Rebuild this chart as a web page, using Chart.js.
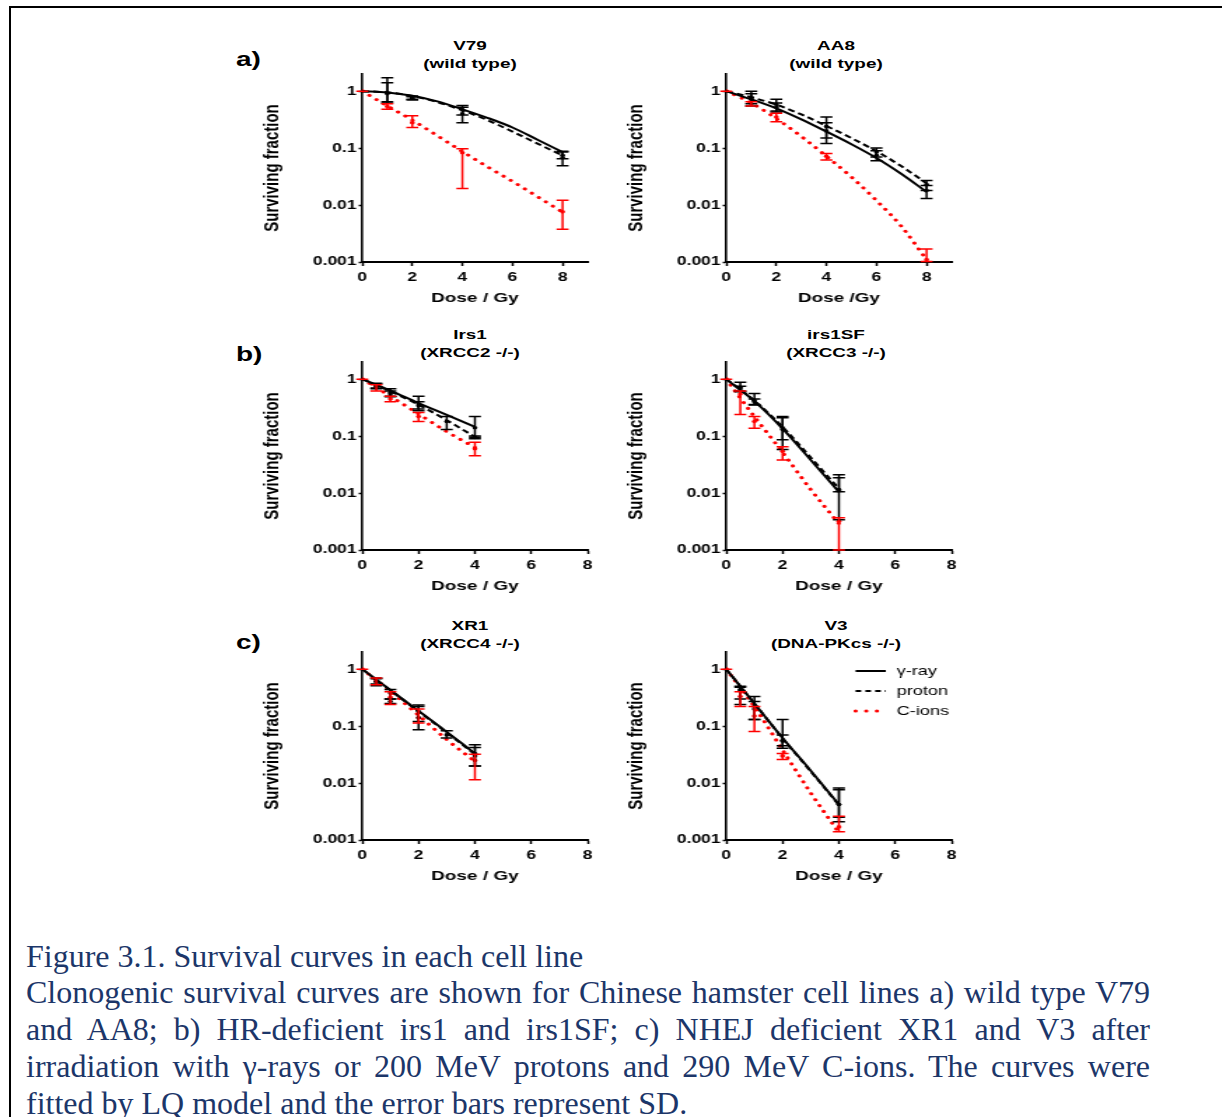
<!DOCTYPE html>
<html>
<head>
<meta charset="utf-8">
<script src="https://cdn.jsdelivr.net/npm/chart.js@4.4.1/dist/chart.umd.min.js"></script>
<style>
  body { margin: 0; background: #fff; }
  #page { position: relative; width: 1222px; height: 1117px; overflow: hidden; background: #fff;
          font-family: "Liberation Sans", Arial, sans-serif; color: #000; }
  #frame { position: absolute; left: 9px; top: 6px; width: 1300px; height: 1200px;
           border-left: 2px solid #000; border-top: 2px solid #000; }
  /* the original figure is stretched sideways, so every panel is too */
  .box { position: absolute; transform: scaleX(1.4); transform-origin: 0 0; }
  .col1 { left: 259.8px; }
  .col2 { left: 623.8px; }
  .row1 { top: 64px; }
  .row2 { top: 352px; }
  .row3 { top: 642px; }
  .title { position: absolute; width: 200px; margin-left: -100px; text-align: center;
           font-weight: bold; font-size: 13.5px; line-height: 18px; transform: scaleX(1.4); }
  .lab { position: absolute; left: 236px; font-weight: bold; font-size: 20px; line-height: 24px;
         transform: scaleX(1.4); transform-origin: 0 50%; }
  #caption { position: absolute; left: 26px; top: 937.6px; width: 1124px;
             font-family: "Liberation Serif", "Times New Roman", serif; font-size: 32px;
             line-height: 36.8px; color: #1c3669; }
  .jl { text-align: justify; text-align-last: justify; }
</style>
</head>
<body>
<div id="page">
  <div id="frame"></div>

  <div class="lab" style="top:47px">a)</div>
  <div class="lab" style="top:342px">b)</div>
  <div class="lab" style="top:630px">c)</div>

  <div class="title" style="left:470px; top:37px">V79<br>(wild type)</div>
  <div class="title" style="left:836px; top:37px">AA8<br>(wild type)</div>
  <div class="title" style="left:470px; top:326px">Irs1<br>(XRCC2 -/-)</div>
  <div class="title" style="left:836px; top:326px">irs1SF<br>(XRCC3 -/-)</div>
  <div class="title" style="left:470px; top:617px">XR1<br>(XRCC4 -/-)</div>
  <div class="title" style="left:836px; top:617px">V3<br>(DNA-PKcs -/-)</div>

  <div class="box col1 row1"><canvas id="cV79" width="242" height="244"></canvas></div>
  <div class="box col2 row1"><canvas id="cAA8" width="242" height="244"></canvas></div>
  <div class="box col1 row2"><canvas id="cIrs1" width="242" height="244"></canvas></div>
  <div class="box col2 row2"><canvas id="cIrs1SF" width="242" height="244"></canvas></div>
  <div class="box col1 row3"><canvas id="cXR1" width="242" height="244"></canvas></div>
  <div class="box col2 row3"><canvas id="cV3" width="242" height="244"></canvas></div>

  <div id="caption">
    <div>Figure 3.1. Survival curves in each cell line</div>
    <div class="jl">Clonogenic survival curves are shown for Chinese hamster cell lines a) wild type V79</div>
    <div class="jl">and AA8; b) HR-deficient irs1 and irs1SF; c) NHEJ deficient XR1 and V3 after</div>
    <div class="jl">irradiation with γ-rays or 200 MeV protons and 290 MeV C-ions. The curves were</div>
    <div>fitted by LQ model and the error bars represent SD.</div>
  </div>
</div>

<script>
// axis ticks
const xTicks = [0, 2, 4, 6, 8];
const yTicks = [0.001, 0.01, 0.1, 1];
const yTickLabels = ['0.001', '0.01', '0.1', '1'];
const seriesNames = ['γ-ray', 'proton', 'C-ions'];

// doses where the fitted curves were read
const fitDoseLong = [0, 1, 2, 3, 4, 5, 6, 7, 8];
const fitDoseShort = [0, 1, 2, 3, 4];

// fitted curves (surviving fraction)
const v79GammaFit = [1, 0.95, 0.83, 0.66, 0.48, 0.34, 0.23, 0.14, 0.085];
const v79ProtonFit = [1, 0.95, 0.82, 0.64, 0.46, 0.31, 0.195, 0.12, 0.074];
const v79CionFit = [1, 0.55, 0.31, 0.165, 0.087, 0.047, 0.026, 0.014, 0.0075];

const aa8GammaFit = [1, 0.72, 0.50, 0.32, 0.195, 0.117, 0.067, 0.035, 0.017];
const aa8ProtonFit = [1, 0.78, 0.58, 0.39, 0.245, 0.15, 0.088, 0.048, 0.024];
const aa8CionFit = [1, 0.62, 0.33, 0.16, 0.072, 0.031, 0.012, 0.0042, 0.0011];

const irs1GammaFit = [1, 0.63, 0.38, 0.235, 0.145];
const irs1ProtonFit = [1, 0.61, 0.355, 0.19, 0.097];
const irs1CionFit = [1, 0.5, 0.245, 0.12, 0.063];

const irs1sfGammaFit = [1, 0.41, 0.135, 0.038, 0.0105];
const irs1sfProtonFit = [1, 0.42, 0.145, 0.042, 0.012];
const irs1sfCionFit = [1, 0.22, 0.052, 0.0115, 0.0029];

const xr1GammaFit = [1, 0.43, 0.185, 0.079, 0.033];
const xr1ProtonFit = [1, 0.425, 0.18, 0.077, 0.032];
const xr1CionFit = [1, 0.41, 0.155, 0.058, 0.024];

const v3GammaFit = [1, 0.25, 0.062, 0.0165, 0.0042];
const v3ProtonFit = [1, 0.25, 0.061, 0.016, 0.0041];
const v3CionFit = [1, 0.22, 0.038, 0.0067, 0.00135];

// measured points: [dose, mean, low end of bar, high end of bar]
const v79GammaPts = [[1, 0.95, 0.62, 1.72], [2, 0.77, 0.72, 0.82], [4, 0.47, 0.38, 0.56], [8, 0.075, 0.065, 0.088]];
const v79ProtonPts = [[1, 0.9, 0.65, 1.4], [2, 0.75, 0.7, 0.8], [4, 0.40, 0.28, 0.52], [8, 0.068, 0.049, 0.085]];
const v79CionPts = [[0, 1, 1, 1], [1, 0.54, 0.48, 0.6], [2, 0.28, 0.23, 0.37], [4, 0.083, 0.0196, 0.097], [8, 0.0076, 0.00375, 0.0121]];

const aa8GammaPts = [[1, 0.72, 0.55, 0.9], [2, 0.52, 0.43, 0.62], [4, 0.2, 0.12, 0.28], [6, 0.075, 0.06, 0.09], [8, 0.018, 0.013, 0.022]];
const aa8ProtonPts = [[1, 0.78, 0.6, 1.0], [2, 0.58, 0.45, 0.72], [4, 0.24, 0.15, 0.35], [6, 0.085, 0.07, 0.1], [8, 0.023, 0.018, 0.027]];
const aa8CionPts = [[0, 1, 1, 1], [1, 0.6, 0.55, 0.65], [2, 0.35, 0.29, 0.41], [4, 0.072, 0.062, 0.08], [8, 0.0011, 0.00102, 0.0017]];

const irs1GammaPts = [[0.5, 0.77, 0.7, 0.85], [1, 0.58, 0.49, 0.68], [2, 0.37, 0.28, 0.5], [4, 0.14, 0.095, 0.22]];
const irs1ProtonPts = [[0.5, 0.75, 0.68, 0.82], [1, 0.55, 0.5, 0.62], [2, 0.34, 0.3, 0.4], [3, 0.18, 0.13, 0.22], [4, 0.095, 0.09, 0.1]];
const irs1CionPts = [[0, 1, 1, 1], [0.5, 0.7, 0.62, 0.8], [1, 0.45, 0.4, 0.5], [2, 0.22, 0.18, 0.26], [4, 0.06, 0.045, 0.078]];

const irs1sfGammaPts = [[0.5, 0.72, 0.62, 0.88], [1, 0.42, 0.35, 0.56], [2, 0.14, 0.058, 0.22], [4, 0.011, 0.0034, 0.021]];
const irs1sfProtonPts = [[0.5, 0.68, 0.6, 0.75], [1, 0.4, 0.36, 0.45], [2, 0.13, 0.086, 0.21], [4, 0.0115, 0.0105, 0.0185]];
const irs1sfCionPts = [[0, 1, 1, 1], [0.5, 0.55, 0.24, 0.62], [1, 0.18, 0.138, 0.22], [2, 0.054, 0.038, 0.065], [4, 0.0032, 0.001, 0.0037]];

const xr1GammaPts = [[0.5, 0.6, 0.51, 0.7], [1, 0.38, 0.3, 0.44], [2, 0.18, 0.12, 0.235], [3, 0.07, 0.062, 0.083], [4, 0.033, 0.02, 0.047]];
const xr1ProtonPts = [[0.5, 0.62, 0.55, 0.68], [1, 0.27, 0.25, 0.3], [2, 0.14, 0.086, 0.22], [4, 0.03, 0.02, 0.042]];
const xr1CionPts = [[0, 1, 1, 1], [0.5, 0.6, 0.53, 0.7], [1, 0.32, 0.24, 0.4], [2, 0.14, 0.113, 0.2], [4, 0.025, 0.0114, 0.032]];

const v3GammaPts = [[0.5, 0.44, 0.24, 0.5], [1, 0.22, 0.13, 0.33], [2, 0.056, 0.041, 0.13], [4, 0.0042, 0.0021, 0.0082]];
const v3ProtonPts = [[0.5, 0.42, 0.3, 0.48], [1, 0.2, 0.13, 0.27], [2, 0.055, 0.045, 0.07], [4, 0.0042, 0.0025, 0.0076]];
const v3CionPts = [[0, 1, 1, 1], [0.5, 0.33, 0.22, 0.4], [1, 0.15, 0.08, 0.22], [2, 0.03, 0.026, 0.033], [4, 0.0017, 0.0014, 0.0026]];

const FONT = '"Liberation Sans", Arial, sans-serif';
const RED = '#ff0000';

// error bars with caps, drawn through the chart's own scales
const errorBars = {
  id: 'errorBars',
  afterDatasetsDraw(chart) {
    const {ctx, chartArea, scales} = chart;
    ctx.save();
    ctx.beginPath();
    ctx.rect(chartArea.left - 6, chartArea.top, chartArea.width + 12, chartArea.height + 1);
    ctx.clip();
    chart.data.datasets.forEach(ds => {
      if (!ds.bars) return;
      ctx.strokeStyle = ds.borderColor;
      ctx.lineWidth = 1.5;
      ds.bars.forEach(b => {
        const px = scales.x.getPixelForValue(b[0]);
        const lo = scales.y.getPixelForValue(b[2]);
        const hi = scales.y.getPixelForValue(b[3]);
        ctx.beginPath();
        ctx.moveTo(px, hi); ctx.lineTo(px, lo);
        ctx.moveTo(px - 4.3, hi); ctx.lineTo(px + 4.3, hi);
        ctx.moveTo(px - 4.3, lo); ctx.lineTo(px + 4.3, lo);
        ctx.stroke();
      });
    });
    ctx.restore();
  }
};

// legend in the top right corner of the plot (only used on V3)
const cornerLegend = {
  id: 'cornerLegend',
  afterDraw(chart, args, opts) {
    if (!opts.show) return;
    const {ctx, chartArea} = chart;
    const curves = chart.data.datasets.filter(d => !d.bars);
    curves.forEach((ds, i) => {
      const yy = chartArea.top + 19 + i * 20;
      ctx.save();
      ctx.strokeStyle = ds.borderColor;
      ctx.lineWidth = ds.borderWidth;
      ctx.lineCap = ds.borderCapStyle || 'butt';
      ctx.setLineDash(ds.legendDash);
      ctx.beginPath();
      ctx.moveTo(chartArea.right - 68.6, yy);
      ctx.lineTo(chartArea.right - 47, yy);
      ctx.stroke();
      ctx.setLineDash([]);
      ctx.fillStyle = '#000';
      ctx.font = '13px ' + FONT;
      ctx.textBaseline = 'middle';
      ctx.fillText(ds.label, chartArea.right - 39.3, yy);
      ctx.restore();
    });
  }
};

function curve(label, dose, vals, style) {
  return Object.assign({
    label: label,
    data: dose.map((d, i) => ({x: d, y: vals[i]})),
    pointRadius: 0,
    fill: false,
    cubicInterpolationMode: 'monotone'
  }, style);
}

function points(label, pts, color) {
  return {
    label: label,
    data: pts.map(p => ({x: p[0], y: p[1]})),
    bars: pts,
    showLine: false,
    borderColor: color,
    backgroundColor: color,
    pointRadius: 1.8,
    pointBorderWidth: 0
  };
}

function drawPanel(id, dose, fits, pts, xMax, xTitle, legend) {
  const solid = {borderColor: '#000', borderWidth: 2, legendDash: []};
  const dashed = {borderColor: '#000', borderWidth: 2, borderDash: [5, 3], legendDash: [4, 3]};
  const dotted = {borderColor: RED, borderWidth: 3, borderDash: [0.1, 6.5], borderCapStyle: 'round', legendDash: [0.1, 7.5]};
  new Chart(document.getElementById(id), {
    type: 'line',
    data: {
      datasets: [
        curve(seriesNames[0], dose, fits[0], solid),
        curve(seriesNames[1], dose, fits[1], dashed),
        curve(seriesNames[2], dose, fits[2], dotted),
        points(seriesNames[0], pts[0], '#000'),
        points(seriesNames[1], pts[1], '#000'),
        points(seriesNames[2], pts[2], RED)
      ]
    },
    options: {
      responsive: false,
      animation: false,
      devicePixelRatio: 1,
      layout: {padding: {top: 10, left: 0, right: 8, bottom: 0}},
      plugins: {
        legend: {display: false},
        tooltip: {enabled: false},
        cornerLegend: {show: legend}
      },
      scales: {
        x: {
          type: 'linear', min: 0, max: xMax,
          afterBuildTicks: s => { s.ticks = xTicks.map(v => ({value: v})); },
          afterFit: s => { s.height = 46; },
          grid: {drawOnChartArea: false, tickLength: 4, tickWidth: 1.5, tickColor: '#000'},
          border: {color: '#000', width: 2},
          ticks: {color: '#000', padding: 4.5, maxRotation: 0, autoSkip: false,
                  font: {family: FONT, size: 12.5, weight: 'bold'}},
          title: {display: true, text: xTitle, color: '#000', padding: {top: 0, bottom: 2},
                  font: {family: FONT, size: 13.5, weight: 'bold'}}
        },
        y: {
          type: 'logarithmic', min: 0.001, max: 2,
          afterBuildTicks: s => { s.ticks = yTicks.map(v => ({value: v})); },
          afterFit: s => { s.width = 73; },
          grid: {drawOnChartArea: false, tickLength: 2.5, tickWidth: 1.5, tickColor: '#000'},
          border: {color: '#000', width: 1.6},
          ticks: {color: '#000', padding: 1.5, autoSkip: false,
                  callback: v => yTickLabels[yTicks.indexOf(v)],
                  font: {family: FONT, size: 12.5, weight: 'bold'}},
          title: {display: true, text: 'Surviving fraction', color: '#000', padding: 0,
                  font: {family: FONT, size: 15, weight: 'bold'}}
        }
      }
    },
    plugins: [errorBars, cornerLegend]
  });
}

drawPanel('cV79', fitDoseLong, [v79GammaFit, v79ProtonFit, v79CionFit],
          [v79GammaPts, v79ProtonPts, v79CionPts], 9, 'Dose / Gy', false);
drawPanel('cAA8', fitDoseLong, [aa8GammaFit, aa8ProtonFit, aa8CionFit],
          [aa8GammaPts, aa8ProtonPts, aa8CionPts], 9, 'Dose /Gy', false);
drawPanel('cIrs1', fitDoseShort, [irs1GammaFit, irs1ProtonFit, irs1CionFit],
          [irs1GammaPts, irs1ProtonPts, irs1CionPts], 8, 'Dose / Gy', false);
drawPanel('cIrs1SF', fitDoseShort, [irs1sfGammaFit, irs1sfProtonFit, irs1sfCionFit],
          [irs1sfGammaPts, irs1sfProtonPts, irs1sfCionPts], 8, 'Dose / Gy', false);
drawPanel('cXR1', fitDoseShort, [xr1GammaFit, xr1ProtonFit, xr1CionFit],
          [xr1GammaPts, xr1ProtonPts, xr1CionPts], 8, 'Dose / Gy', false);
drawPanel('cV3', fitDoseShort, [v3GammaFit, v3ProtonFit, v3CionFit],
          [v3GammaPts, v3ProtonPts, v3CionPts], 8, 'Dose / Gy', true);
</script>
</body>
</html>
